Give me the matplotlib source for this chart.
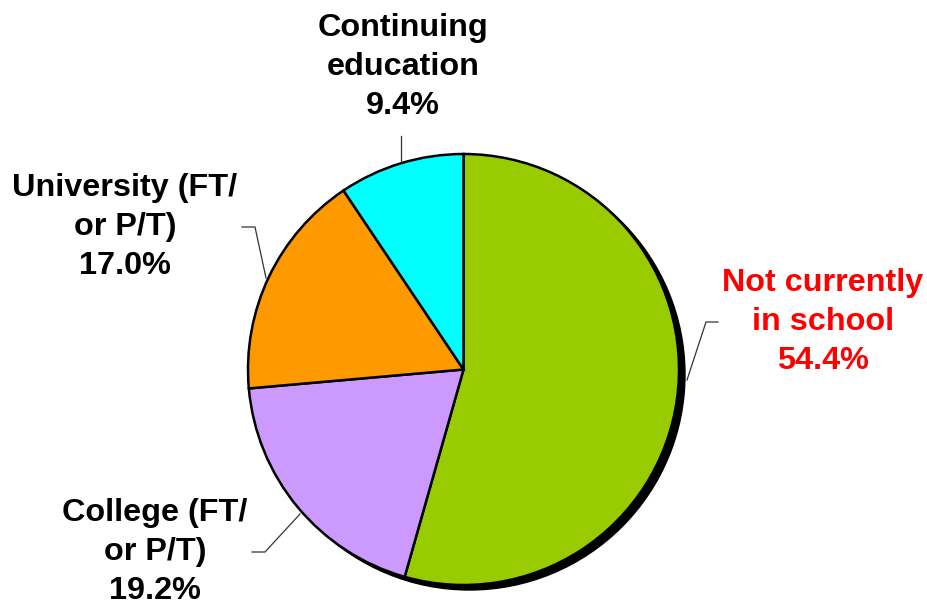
import matplotlib
matplotlib.use("Agg")
import matplotlib.pyplot as plt
from matplotlib.patches import Circle

# categories, clockwise from 12 o'clock
labels = ["Not currently\nin school", "College (FT/\nor P/T)",
          "University (FT/\nor P/T)", "Continuing\neducation"]
shares = [54.4, 19.2, 17.0, 9.4]
colors = ["#99CC00", "#CC99FF", "#FF9900", "#00FFFF"]
label_colors = ["#FF0000", "black", "black", "black"]

W, H = 928, 610
CX, CY, R = 463.5, H - 369.5, 215.5

# label centres and leader lines (pixel coords, y from top)
label_pos = [(823, 322), (155, 552), (125, 227), (403, 67)]
leaders = [
    [(687, 380), (706, 322), (718, 322)],
    [(300, 514), (265, 552), (252, 552)],
    [(266, 278), (255, 227), (242, 227)],
    [(401, 162), (401, 136)],
]

fig = plt.figure(figsize=(W / 100, H / 100), dpi=100)
ax = fig.add_axes([0, 0, 1, 1])

# drop shadow, offset down and to the right
ax.add_patch(Circle((CX + 6, CY - 5), R, color="black", zorder=1))

ax.pie(shares, colors=colors, startangle=90, counterclock=False,
       center=(CX, CY), radius=R, frame=True,
       wedgeprops=dict(edgecolor="black", linewidth=1.8, zorder=2))
ax.set_xlim(0, W)
ax.set_ylim(0, H)
ax.set_aspect("equal")
ax.axis("off")

for pts in leaders:
    xs = [p[0] for p in pts]
    ys = [H - p[1] for p in pts]
    ax.plot(xs, ys, color="#333333", lw=0.9, zorder=3)

for lab, val, pos, c in zip(labels, shares, label_pos, label_colors):
    ax.text(pos[0], H - pos[1], f"{lab}\n{val:.1f}%", ha="center", va="center",
            fontsize=23.3, fontweight="bold", color=c,
            family=["Liberation Sans", "DejaVu Sans"], linespacing=1.38)

fig.savefig("out.png", dpi=100)
